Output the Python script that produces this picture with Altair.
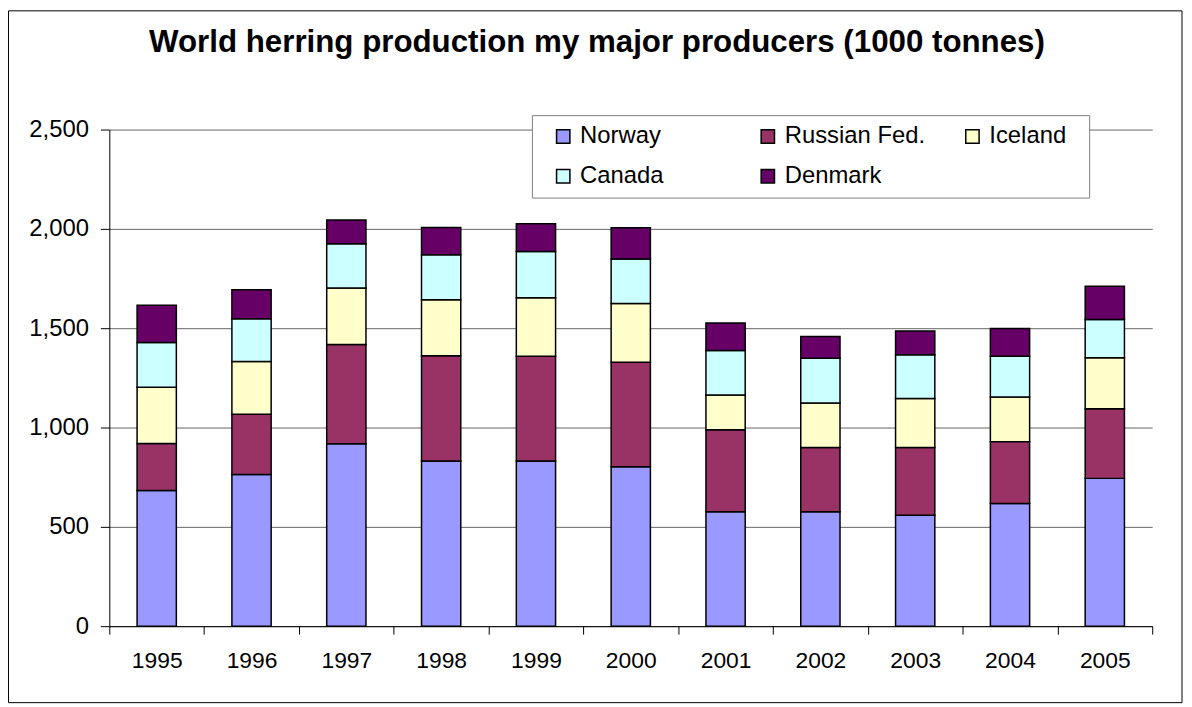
import altair as alt
import pandas as pd

FONT = "Liberation Sans"

years = ["1995", "1996", "1997", "1998", "1999", "2000", "2001", "2002", "2003", "2004", "2005"]
series = ["Norway", "Russian Fed.", "Iceland", "Canada", "Denmark"]
colors = ["#9999FF", "#993366", "#FFFFCC", "#CCFFFF", "#660066"]

norway = [683, 763, 918, 831, 831, 803, 576, 576, 558, 618, 744]
russia = [236, 304, 500, 530, 528, 526, 413, 323, 341, 311, 350]
iceland = [284, 265, 284, 282, 294, 295, 175, 225, 247, 225, 257]
canada = [225, 215, 223, 227, 233, 224, 224, 225, 220, 205, 193]
denmark = [187, 147, 120, 137, 140, 158, 138, 109, 120, 140, 167]

title_text = "World herring production my major producers (1000 tonnes)"
y_ticks = [0, 500, 1000, 1500, 2000, 2500]

rows = []
for idx, (name, vals) in enumerate(zip(series, [norway, russia, iceland, canada, denmark])):
    for yr, v in zip(years, vals):
        rows.append({"year": yr, "series": name, "value": v, "idx": idx})
df = pd.DataFrame(rows)
one = pd.DataFrame({"k": [0]})

bars = alt.Chart(df).mark_bar(stroke="black", strokeWidth=1.5, width={"band": 0.414}).encode(
    x=alt.X(
        "year:N", sort=years, title=None,
        scale=alt.Scale(paddingInner=0, paddingOuter=0),
        axis=alt.Axis(labelAngle=0, tickBand="extent", domainColor="black", tickColor="black",
                      tickSize=8, labelPadding=16, grid=False, labelFontSize=23,
                      labelColor="black", labelFont=FONT),
    ),
    y=alt.Y(
        "value:Q", stack="zero", title=None,
        scale=alt.Scale(domain=[0, 2500], nice=False),
        axis=alt.Axis(values=y_ticks, format=",d", grid=True, gridColor="#666666",
                      domainColor="black", tickColor="black", tickSize=9, labelPadding=12,
                      labelFontSize=24, labelColor="black", labelFont=FONT),
    ),
    color=alt.Color(
        "series:N", sort=series,
        scale=alt.Scale(domain=series, range=colors),
        legend=alt.Legend(
            title=None, orient="none", legendX=445, legendY=-5, columns=3,
            direction="horizontal",
            gridAlign="all", columnPadding=35, rowPadding=16, symbolType="square",
            symbolSize=180, symbolStrokeColor="black", symbolStrokeWidth=1.5,
            labelFontSize=24, labelFont=FONT, labelColor="black", labelOffset=5,
            padding=0, symbolOpacity=1,
        ),
    ),
    order=alt.Order("idx:Q", sort="ascending"),
)

legend_box = alt.Chart(one).mark_rect(fill="white", stroke="#808080", strokeWidth=1).encode(
    x=alt.value(426), x2=alt.value(987), y=alt.value(-14), y2=alt.value(69)
)

border = alt.Chart(one).mark_rect(fill="transparent", stroke="black", strokeWidth=1).encode(
    x=alt.value(-101.5), x2=alt.value(1080), y=alt.value(-119.5), y2=alt.value(577)
)

title = alt.Chart(one).mark_text(
    text=title_text, font=FONT, fontSize=31.5, fontWeight="bold", color="black",
    align="center", baseline="alphabetic"
).encode(x=alt.value(491), y=alt.value(-78))

chart = alt.layer(border, legend_box, bars, title).properties(
    width=1050, height=500,
    autosize=alt.AutoSizeParams(type="none"),
    padding={"left": 102, "top": 120, "right": 32, "bottom": 79},
).configure_view(stroke=None)

chart.save("out.html", embed_options={"renderer": "svg", "actions": False})
